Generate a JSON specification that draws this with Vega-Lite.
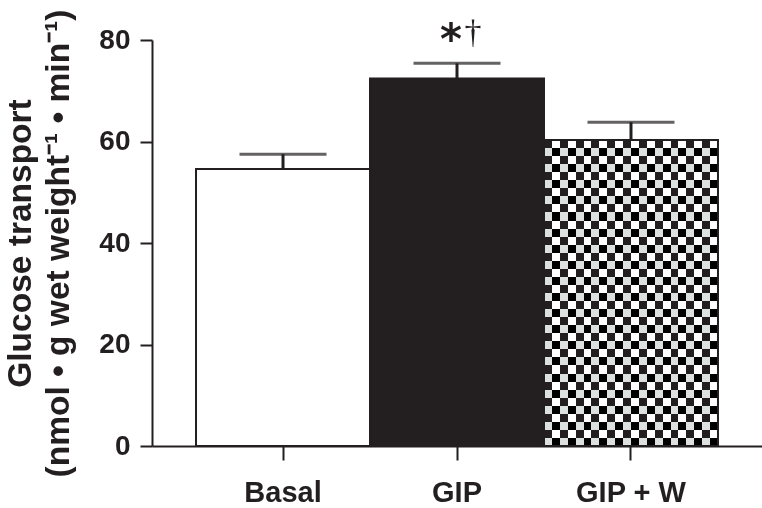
{
  "$schema": "https://vega.github.io/schema/vega-lite/v6.json",
  "autosize": "none",
  "width": 610,
  "height": 406,
  "padding": {"left": 152, "top": 40, "right": 0, "bottom": 62},
  "background": "white",
  "config": {"view": {"stroke": null}},
  "data": {"values": [
    {"group": "Basal", "mean": 54.6, "upper": 57.5, "star": "", "dagger": ""},
    {"group": "GIP", "mean": 72.4, "upper": 75.4, "star": "*", "dagger": "†"},
    {"group": "GIP + W", "mean": 60.3, "upper": 63.8, "star": "", "dagger": ""}
  ]},
  "encoding": {
    "x": {"field": "group", "type": "nominal", "sort": ["Basal", "GIP", "GIP + W"],
      "scale": {"paddingInner": 0, "paddingOuter": 0.253},
      "axis": {"title": null, "labelAngle": 0, "domainColor": "#231f20", "domainWidth": 2,
        "tickColor": "#231f20", "tickWidth": 2, "tickSize": 14, "labelPadding": 18,
        "labelFont": "Liberation Sans", "labelFontWeight": "bold", "labelFontSize": 29, "labelColor": "#231f20"}}
  },
  "layer": [
    {
      "mark": {"type": "bar", "width": {"band": 1}},
      "encoding": {
        "y": {"field": "mean", "type": "quantitative",
          "scale": {"domain": [0, 80], "nice": false},
          "axis": {"values": [0, 20, 40, 60, 80], "grid": false, "domainColor": "#231f20", "domainWidth": 2,
            "tickColor": "#231f20", "tickWidth": 2, "tickSize": 12, "labelPadding": 10,
            "labelFont": "Liberation Sans", "labelFontWeight": "bold", "labelFontSize": 28, "labelColor": "#231f20",
            "title": ["Glucose transport", "(nmol • g wet weight⁻¹ • min⁻¹)"],
            "titleFont": "Liberation Sans", "titleFontWeight": "bold", "titleFontSize": 33.5, "titleColor": "#231f20",
            "titleAngle": -90, "titleAlign": "center", "titleBaseline": "alphabetic",
            "titleX": -122, "titleY": 203, "titleLineHeight": 38}},
        "color": {"field": "group", "type": "nominal",
          "scale": {"domain": ["Basal", "GIP", "GIP + W"], "range": ["#ffffff", "#231f20", "#ffffff"]},
          "legend": null}
      }
    },
    {
      "transform": [{"filter": "datum.group === 'GIP + W'"}],
      "mark": {"type": "bar", "width": {"band": 1},
        "fill": {"gradient": "linear", "x1": 0, "y1": 0, "x2": 1, "y2": 0, "stops": [
          {"offset": 0, "color": "#231f20"}, {"offset": 0.0455, "color": "#231f20"},
          {"offset": 0.0455, "color": "#ffffff"}, {"offset": 0.0909, "color": "#ffffff"},
          {"offset": 0.0909, "color": "#231f20"}, {"offset": 0.1364, "color": "#231f20"},
          {"offset": 0.1364, "color": "#ffffff"}, {"offset": 0.1818, "color": "#ffffff"},
          {"offset": 0.1818, "color": "#231f20"}, {"offset": 0.2273, "color": "#231f20"},
          {"offset": 0.2273, "color": "#ffffff"}, {"offset": 0.2727, "color": "#ffffff"},
          {"offset": 0.2727, "color": "#231f20"}, {"offset": 0.3182, "color": "#231f20"},
          {"offset": 0.3182, "color": "#ffffff"}, {"offset": 0.3636, "color": "#ffffff"},
          {"offset": 0.3636, "color": "#231f20"}, {"offset": 0.4091, "color": "#231f20"},
          {"offset": 0.4091, "color": "#ffffff"}, {"offset": 0.4545, "color": "#ffffff"},
          {"offset": 0.4545, "color": "#231f20"}, {"offset": 0.5, "color": "#231f20"},
          {"offset": 0.5, "color": "#ffffff"}, {"offset": 0.5455, "color": "#ffffff"},
          {"offset": 0.5455, "color": "#231f20"}, {"offset": 0.5909, "color": "#231f20"},
          {"offset": 0.5909, "color": "#ffffff"}, {"offset": 0.6364, "color": "#ffffff"},
          {"offset": 0.6364, "color": "#231f20"}, {"offset": 0.6818, "color": "#231f20"},
          {"offset": 0.6818, "color": "#ffffff"}, {"offset": 0.7273, "color": "#ffffff"},
          {"offset": 0.7273, "color": "#231f20"}, {"offset": 0.7727, "color": "#231f20"},
          {"offset": 0.7727, "color": "#ffffff"}, {"offset": 0.8182, "color": "#ffffff"},
          {"offset": 0.8182, "color": "#231f20"}, {"offset": 0.8636, "color": "#231f20"},
          {"offset": 0.8636, "color": "#ffffff"}, {"offset": 0.9091, "color": "#ffffff"},
          {"offset": 0.9091, "color": "#231f20"}, {"offset": 0.9545, "color": "#231f20"},
          {"offset": 0.9545, "color": "#ffffff"}, {"offset": 1, "color": "#ffffff"}
        ]}},
      "encoding": {"y": {"field": "mean", "type": "quantitative"}}
    },
    {
      "transform": [{"filter": "datum.group === 'GIP + W'"}],
      "mark": {"type": "bar", "width": {"band": 1}, "blend": "difference",
        "fill": {"gradient": "linear", "x1": 0, "y1": 0, "x2": 0, "y2": 1, "stops": [
          {"offset": 0, "color": "#000000"}, {"offset": 0.0263, "color": "#000000"},
          {"offset": 0.0263, "color": "#ffffff"}, {"offset": 0.0526, "color": "#ffffff"},
          {"offset": 0.0526, "color": "#000000"}, {"offset": 0.0789, "color": "#000000"},
          {"offset": 0.0789, "color": "#ffffff"}, {"offset": 0.1053, "color": "#ffffff"},
          {"offset": 0.1053, "color": "#000000"}, {"offset": 0.1316, "color": "#000000"},
          {"offset": 0.1316, "color": "#ffffff"}, {"offset": 0.1579, "color": "#ffffff"},
          {"offset": 0.1579, "color": "#000000"}, {"offset": 0.1842, "color": "#000000"},
          {"offset": 0.1842, "color": "#ffffff"}, {"offset": 0.2105, "color": "#ffffff"},
          {"offset": 0.2105, "color": "#000000"}, {"offset": 0.2368, "color": "#000000"},
          {"offset": 0.2368, "color": "#ffffff"}, {"offset": 0.2632, "color": "#ffffff"},
          {"offset": 0.2632, "color": "#000000"}, {"offset": 0.2895, "color": "#000000"},
          {"offset": 0.2895, "color": "#ffffff"}, {"offset": 0.3158, "color": "#ffffff"},
          {"offset": 0.3158, "color": "#000000"}, {"offset": 0.3421, "color": "#000000"},
          {"offset": 0.3421, "color": "#ffffff"}, {"offset": 0.3684, "color": "#ffffff"},
          {"offset": 0.3684, "color": "#000000"}, {"offset": 0.3947, "color": "#000000"},
          {"offset": 0.3947, "color": "#ffffff"}, {"offset": 0.4211, "color": "#ffffff"},
          {"offset": 0.4211, "color": "#000000"}, {"offset": 0.4474, "color": "#000000"},
          {"offset": 0.4474, "color": "#ffffff"}, {"offset": 0.4737, "color": "#ffffff"},
          {"offset": 0.4737, "color": "#000000"}, {"offset": 0.5, "color": "#000000"},
          {"offset": 0.5, "color": "#ffffff"}, {"offset": 0.5263, "color": "#ffffff"},
          {"offset": 0.5263, "color": "#000000"}, {"offset": 0.5526, "color": "#000000"},
          {"offset": 0.5526, "color": "#ffffff"}, {"offset": 0.5789, "color": "#ffffff"},
          {"offset": 0.5789, "color": "#000000"}, {"offset": 0.6053, "color": "#000000"},
          {"offset": 0.6053, "color": "#ffffff"}, {"offset": 0.6316, "color": "#ffffff"},
          {"offset": 0.6316, "color": "#000000"}, {"offset": 0.6579, "color": "#000000"},
          {"offset": 0.6579, "color": "#ffffff"}, {"offset": 0.6842, "color": "#ffffff"},
          {"offset": 0.6842, "color": "#000000"}, {"offset": 0.7105, "color": "#000000"},
          {"offset": 0.7105, "color": "#ffffff"}, {"offset": 0.7368, "color": "#ffffff"},
          {"offset": 0.7368, "color": "#000000"}, {"offset": 0.7632, "color": "#000000"},
          {"offset": 0.7632, "color": "#ffffff"}, {"offset": 0.7895, "color": "#ffffff"},
          {"offset": 0.7895, "color": "#000000"}, {"offset": 0.8158, "color": "#000000"},
          {"offset": 0.8158, "color": "#ffffff"}, {"offset": 0.8421, "color": "#ffffff"},
          {"offset": 0.8421, "color": "#000000"}, {"offset": 0.8684, "color": "#000000"},
          {"offset": 0.8684, "color": "#ffffff"}, {"offset": 0.8947, "color": "#ffffff"},
          {"offset": 0.8947, "color": "#000000"}, {"offset": 0.9211, "color": "#000000"},
          {"offset": 0.9211, "color": "#ffffff"}, {"offset": 0.9474, "color": "#ffffff"},
          {"offset": 0.9474, "color": "#000000"}, {"offset": 0.9737, "color": "#000000"},
          {"offset": 0.9737, "color": "#ffffff"}, {"offset": 1, "color": "#ffffff"}
        ]}},
      "encoding": {"y": {"field": "mean", "type": "quantitative"}}
    },
    {
      "mark": {"type": "bar", "width": {"band": 1}, "fill": null, "fillOpacity": 0, "stroke": "#231f20", "strokeWidth": 2},
      "encoding": {"y": {"field": "mean", "type": "quantitative"}}
    },
    {
      "mark": {"type": "rule", "color": "#231f20", "strokeWidth": 3},
      "encoding": {"y": {"field": "mean", "type": "quantitative"}, "y2": {"field": "upper"}}
    },
    {
      "mark": {"type": "tick", "color": "#231f20", "size": 87, "thickness": 3, "orient": "horizontal"},
      "encoding": {"y": {"field": "upper", "type": "quantitative"}}
    },
    {
      "mark": {"type": "text", "font": "DejaVu Sans", "fontWeight": "bold", "fontSize": 42, "color": "#231f20", "baseline": "alphabetic", "dx": -6, "dy": -9},
      "encoding": {"y": {"field": "upper", "type": "quantitative"}, "text": {"field": "star"}}
    },
    {
      "mark": {"type": "text", "font": "Liberation Serif", "fontSize": 34, "color": "#231f20", "baseline": "alphabetic", "dx": 16, "dy": -20},
      "encoding": {"y": {"field": "upper", "type": "quantitative"}, "text": {"field": "dagger"}}
    }
  ]
}
